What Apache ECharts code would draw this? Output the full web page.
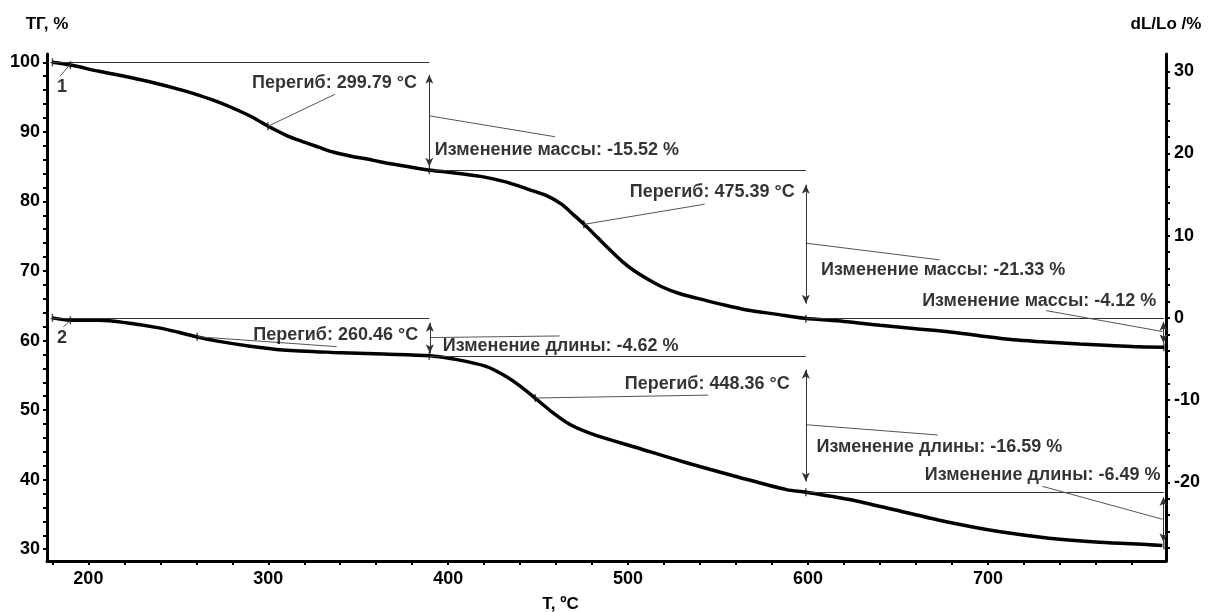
<!DOCTYPE html>
<html>
<head>
<meta charset="utf-8">
<script src="https://cdn.jsdelivr.net/npm/echarts@6/dist/echarts.min.js"></script>
<style>
html, body { margin: 0; padding: 0; background: #fff; }
#chart { width: 1211px; height: 612px; }
</style>
</head>
<body>
<div id="chart"></div>
<script>
// curve 1 - mass loss (TG, left axis)
const tempTG = [180, 190, 206, 220, 234, 252, 262, 272, 284, 292, 300, 310, 318, 328, 336, 346, 355, 362, 373, 389,
    400, 418, 432, 445, 455, 463, 470, 476, 483, 490, 497, 503, 511, 519, 528, 538, 552, 566, 582, 598,
    620, 640, 660, 677, 695, 714, 732, 751, 768, 784, 798];
const massTG = [100.0, 99.6, 98.7, 98.0, 97.2, 96.0, 95.2, 94.3, 93.0, 92.0, 90.8, 89.5, 88.7, 87.8, 87.1, 86.5, 86.1, 85.7, 85.2, 84.5,
    84.2, 83.6, 82.8, 81.7, 80.8, 79.6, 78.0, 76.6, 74.8, 73.0, 71.3, 70.1, 68.8, 67.7, 66.8, 66.1, 65.2, 64.4, 63.8, 63.2,
    62.75, 62.2, 61.7, 61.3, 60.7, 60.1, 59.8, 59.5, 59.3, 59.1, 59.03];

// curve 2 - dilatometry (dL/Lo, right axis)
const tempDL = [180, 190, 206, 221, 240, 250, 260, 271, 290, 308, 336, 364, 390,
    403, 421, 432, 440, 448, 458, 468, 481, 505, 532, 560, 588, 599,
    623, 651, 679, 706, 734, 762, 790, 797];
const lenDL = [0, -0.3, -0.3, -0.6, -1.25, -1.75, -2.3, -2.8, -3.45, -3.9, -4.2, -4.4, -4.62,
    -5.0, -5.9, -7.1, -8.3, -9.7, -11.5, -13.0, -14.2, -15.8, -17.6, -19.3, -20.9, -21.21,
    -22.1, -23.5, -24.9, -26.0, -26.8, -27.3, -27.6, -27.7];

// step boundaries and levels
const stepTemps = [179, 389.5, 598.8, 797.8];
const massLevels = [100, 84.48, 63.15, 59.03];
const lenLevels = [0, -4.62, -21.21, -27.70];
const massChanges = ['-15.52', '-21.33', '-4.12'];
const lenChanges = ['-4.62', '-16.59', '-6.49'];
const massInflections = [[299.79, 90.8], [475.39, 76.7]];
const lenInflections = [[260.46, -2.3], [448.36, -9.75]];

// axis ticks / labels
const xTicks = [180, 200, 220, 240, 260, 280, 300, 320, 340, 360, 380, 400, 420, 440, 460, 480, 500, 520, 540, 560,
    580, 600, 620, 640, 660, 680, 700, 720, 740, 760, 780];
const xLabels = [200, 300, 400, 500, 600, 700];
const leftTicks = [30, 32, 34, 36, 38, 40, 42, 44, 46, 48, 50, 52, 54, 56, 58, 60, 62, 64, 66, 68, 70, 72, 74, 76, 78,
    80, 82, 84, 86, 88, 90, 92, 94, 96, 98, 100];
const leftLabels = [30, 40, 50, 60, 70, 80, 90, 100];
const rightTicks = [-28, -26, -24, -22, -20, -18, -16, -14, -12, -10, -8, -6, -4, -2, 0, 2, 4, 6, 8, 10, 12, 14, 16,
    18, 20, 22, 24, 26, 28, 30];
const rightLabels = [-20, -10, 0, 10, 20, 30];

// where the annotation texts and their leader lines sit (data coords)
const massNoteAt = [[382.6, 97.0, 'left'], [392.6, 87.4, 'right'], [592.6, 81.4, 'left'], [607.3, 70.1, 'right'], [793.6, 65.7, 'left']];
const massLeaders = [[[337.1, 95.4], [299.8, 90.8]], [[389.5, 92.3], [459.3, 89.3]], [[542.6, 79.6], [475.4, 76.7]],
    [[598.8, 74.0], [673.1, 71.6]], [[732.4, 64.3], [797.0, 61.3]], [[184.3, 98.0], [189.9, 99.7]]];
const massArrows = [[389.5, 98.2, 85.0], [598.8, 82.4, 65.3], [797.6, 62.7, 59.6]];

const lenNoteAt = [[383.3, -2.1, 'left'], [397.0, -3.4, 'right'], [589.8, -8.0, 'left'], [604.7, -15.7, 'right'], [796.0, -19.1, 'left']];
const lenLeaders = [[[338.0, -3.5], [260.5, -2.3]], [[389.8, -2.4], [462.0, -2.2]], [[544.5, -9.4], [448.4, -9.75]],
    [[598.8, -13.0], [672.2, -14.25]], [[730.4, -20.5], [797.0, -24.5]], [[186.1, -1.1], [189.9, -0.35]]];
const lenArrows = [[389.8, -0.6, -4.3], [598.8, -6.3, -19.9], [797.6, -21.8, -27.3]];

const FONT = '"Liberation Sans", Arial, sans-serif';
const TEXT = { color: '#000', fontSize: 18, fontWeight: 'bold', fontFamily: FONT };

function refLines(levels, leaders, arrows) {
    const out = [];
    for (let i = 0; i < 3; i++) {
        out.push([{ coord: [stepTemps[i], levels[i]] }, { coord: [stepTemps[i + 1], levels[i]] }]);
    }
    leaders.forEach(l => {
        out.push([{ coord: l[0], lineStyle: { color: '#555', width: 1 } }, { coord: l[1], lineStyle: { color: '#555', width: 1 } }]);
    });
    arrows.forEach(a => {
        out.push([{ coord: [a[0], a[1]], symbol: 'arrow' }, { coord: [a[0], a[2]], symbol: 'arrow' }]);
    });
    return out;
}

function notes(texts, places, numberLabel) {
    const data = texts.map((t, i) => ({
        name: t,
        value: [places[i][0], places[i][1]],
        label: { position: places[i][2] }
    }));
    data.push({ name: numberLabel[0], value: numberLabel[1], label: { position: 'inside' } });
    return data;
}

const massTexts = [
    'Перегиб: ' + massInflections[0][0].toFixed(2) + ' °C',
    'Изменение массы: ' + massChanges[0] + ' %',
    'Перегиб: ' + massInflections[1][0].toFixed(2) + ' °C',
    'Изменение массы: ' + massChanges[1] + ' %',
    'Изменение массы: ' + massChanges[2] + ' %'
];
const lenTexts = [
    'Перегиб: ' + lenInflections[0][0].toFixed(2) + ' °C',
    'Изменение длины: ' + lenChanges[0] + ' %',
    'Перегиб: ' + lenInflections[1][0].toFixed(2) + ' °C',
    'Изменение длины: ' + lenChanges[1] + ' %',
    'Изменение длины: ' + lenChanges[2] + ' %'
];

const massMarks = [[tempTG[0], massTG[0]], [190, 99.6]].concat(massInflections)
    .concat(stepTemps.slice(1).map((t, i) => [t, massLevels[i + 1]]));
const lenMarks = [[tempDL[0], lenDL[0]], [190, -0.3]].concat(lenInflections)
    .concat(stepTemps.slice(1).map((t, i) => [t, lenLevels[i + 1]]));

const option = {
    animation: false,
    backgroundColor: '#fff',
    grid: { left: 47, right: 45, top: 54, bottom: 51, outerBoundsMode: 'none' },
    xAxis: {
        type: 'value', min: 177, max: 799,
        name: 'T, ºC', nameLocation: 'middle', nameGap: 35,
        nameTextStyle: { color: '#000', fontSize: 17, fontWeight: 'bold', fontFamily: FONT, padding: [0, 92, 0, 0] },
        axisLine: { onZero: false, lineStyle: { color: '#000', width: 3 } },
        axisTick: { customValues: xTicks, length: 4, lineStyle: { color: '#000', width: 2 } },
        axisLabel: Object.assign({ customValues: xLabels, margin: 9 }, TEXT),
        splitLine: { show: false }
    },
    yAxis: [
        {
            type: 'value', position: 'left', min: 28.31, max: 101.19,
            name: 'ТГ, %', nameLocation: 'end', nameGap: 21,
            nameTextStyle: { color: '#000', fontSize: 17, fontWeight: 'bold', fontFamily: FONT },
            axisLine: { show: true, onZero: false, lineStyle: { color: '#000', width: 3 } },
            axisTick: { customValues: leftTicks, length: 4, lineStyle: { color: '#000', width: 2 } },
            axisLabel: Object.assign({ customValues: leftLabels, margin: 7 }, TEXT),
            splitLine: { show: false }
        },
        {
            type: 'value', position: 'right', min: -29.58, max: 32.1,
            name: 'dL/Lo /%', nameLocation: 'end', nameGap: 21,
            nameTextStyle: { color: '#000', fontSize: 17, fontWeight: 'bold', fontFamily: FONT },
            axisLine: { show: true, onZero: false, lineStyle: { color: '#000', width: 3 } },
            axisTick: { customValues: rightTicks, length: 4, lineStyle: { color: '#000', width: 2 } },
            axisLabel: Object.assign({ customValues: rightLabels, margin: 8 }, TEXT),
            splitLine: { show: false }
        }
    ],
    series: [
        {
            name: 'ТГ', type: 'line', yAxisIndex: 0, smooth: 0.3, showSymbol: false,
            lineStyle: { color: '#000', width: 3.5 },
            data: tempTG.map((t, i) => [t, massTG[i]]),
            markLine: {
                silent: true, symbol: ['none', 'none'], symbolSize: [6, 9],
                label: { show: false },
                lineStyle: { color: '#333', width: 1, type: 'solid' },
                data: refLines(massLevels, massLeaders, massArrows)
            }
        },
        {
            name: 'dL/Lo', type: 'line', yAxisIndex: 1, smooth: 0.3, showSymbol: false,
            lineStyle: { color: '#000', width: 3.5 },
            data: tempDL.map((t, i) => [t, lenDL[i]]),
            markLine: {
                silent: true, symbol: ['none', 'none'], symbolSize: [6, 9],
                label: { show: false },
                lineStyle: { color: '#333', width: 1, type: 'solid' },
                data: refLines(lenLevels, lenLeaders, lenArrows)
            }
        },
        {
            type: 'scatter', yAxisIndex: 0, symbol: 'rect', symbolSize: [1.5, 8], silent: true,
            itemStyle: { color: '#222' }, data: massMarks
        },
        {
            type: 'scatter', yAxisIndex: 1, symbol: 'rect', symbolSize: [1.5, 8], silent: true,
            itemStyle: { color: '#222' }, data: lenMarks
        },
        {
            type: 'scatter', yAxisIndex: 0, symbolSize: 0, silent: true, z: 5,
            label: Object.assign({ show: true, formatter: '{b}', distance: 0 }, TEXT),
            data: notes(massTexts, massNoteAt, ['1', [185.4, 96.4]])
        },
        {
            type: 'scatter', yAxisIndex: 1, symbolSize: 0, silent: true, z: 5,
            label: Object.assign({ show: true, formatter: '{b}', distance: 0 }, TEXT),
            data: notes(lenTexts, lenNoteAt, ['2', [185.4, -2.5]])
        }
    ]
};

const myChart = echarts.init(document.getElementById('chart'));
myChart.setOption(option);
</script>
</body>
</html>
